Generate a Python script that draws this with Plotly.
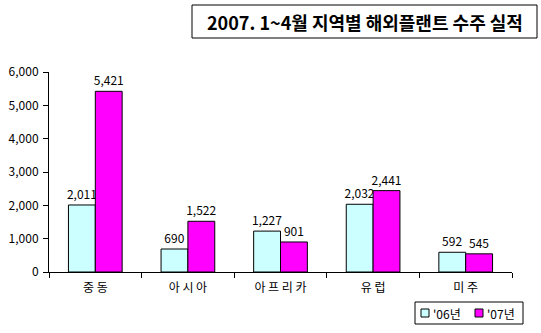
import plotly.graph_objects as go

regions = ["중 동", "아 시 아", "아 프 리 카", "유 럽", "미 주"]
values_06 = [2011, 690, 1227, 2032, 592]
values_07 = [5421, 1522, 901, 2441, 545]
series_names = ["'06년", "'07년"]
series_colors = ["#CCFFFF", "#FF00FF"]
y_ticks = [0, 1000, 2000, 3000, 4000, 5000, 6000]
title_text = "2007. 1~4월 지역별 해외플랜트 수주 실적"

FONT = "Noto Sans CJK KR, DejaVu Sans, sans-serif"
W, H = 541, 333
ML, MR, MT, MB = 49, 29, 72, 61
PW, PH = W - ML - MR, H - MT - MB


def px(x):
    return (x - ML) / PW


def py(y):
    return (H - MB - y) / PH


fig = go.Figure()
for name, vals, color in zip(series_names, [values_06, values_07], series_colors):
    fig.add_trace(go.Bar(
        x=regions, y=vals, name=name,
        marker=dict(color=color, line=dict(color="black", width=1)),
        text=[f"{v:,}" for v in vals], textposition="outside",
        constraintext="none",
        textfont=dict(size=12, color="black", family=FONT),
        cliponaxis=False,
    ))

shapes = [
    # title box
    dict(type="rect", xref="paper", yref="paper",
         x0=px(192), x1=px(537), y0=py(38), y1=py(5),
         line=dict(color="black", width=1), fillcolor="white"),
    # legend box
    dict(type="rect", xref="paper", yref="paper",
         x0=px(415), x1=px(523), y0=py(324), y1=py(302),
         line=dict(color="black", width=1), fillcolor="white"),
]
annotations = [
    dict(text=f"<b>{title_text}</b>", xref="paper", yref="paper",
         x=px(364.5), y=py(21.5), showarrow=False,
         xanchor="center", yanchor="middle",
         font=dict(size=18, family=FONT)),
]
for i, (name, color) in enumerate(zip(series_names, series_colors)):
    sx = 421 + i * 54
    shapes.append(dict(type="rect", xref="paper", yref="paper",
                       x0=px(sx), x1=px(sx + 8), y0=py(317), y1=py(309),
                       line=dict(color="black", width=1), fillcolor=color))
    annotations.append(dict(text=name, xref="paper", yref="paper",
                            x=px(sx + 10), y=py(313), showarrow=False,
                            xanchor="left", yanchor="middle",
                            font=dict(size=12, family=FONT)))

fig.update_layout(
    width=W, height=H,
    margin=dict(l=ML, r=MR, t=MT, b=MB),
    paper_bgcolor="white", plot_bgcolor="white",
    barmode="group", bargap=0.42, bargroupgap=0,
    font=dict(family=FONT, size=12, color="black"),
    showlegend=False,
    xaxis=dict(showline=True, linecolor="black", linewidth=1,
               ticks="outside", ticklen=5, tickcolor="black",
               tickson="boundaries", showgrid=False, automargin=False,
               ticklabelstandoff=5, tickfont=dict(size=12)),
    yaxis=dict(range=[0, 6000], tickvals=y_ticks,
               ticktext=[f"{v:,}" for v in y_ticks],
               showline=True, linecolor="black", linewidth=1,
               ticks="outside", ticklen=5, tickcolor="black",
               showgrid=False, zeroline=False, automargin=False,
               ticklabelstandoff=2, tickfont=dict(size=12)),
    shapes=shapes,
    annotations=annotations,
)

fig.write_html("out.html")
